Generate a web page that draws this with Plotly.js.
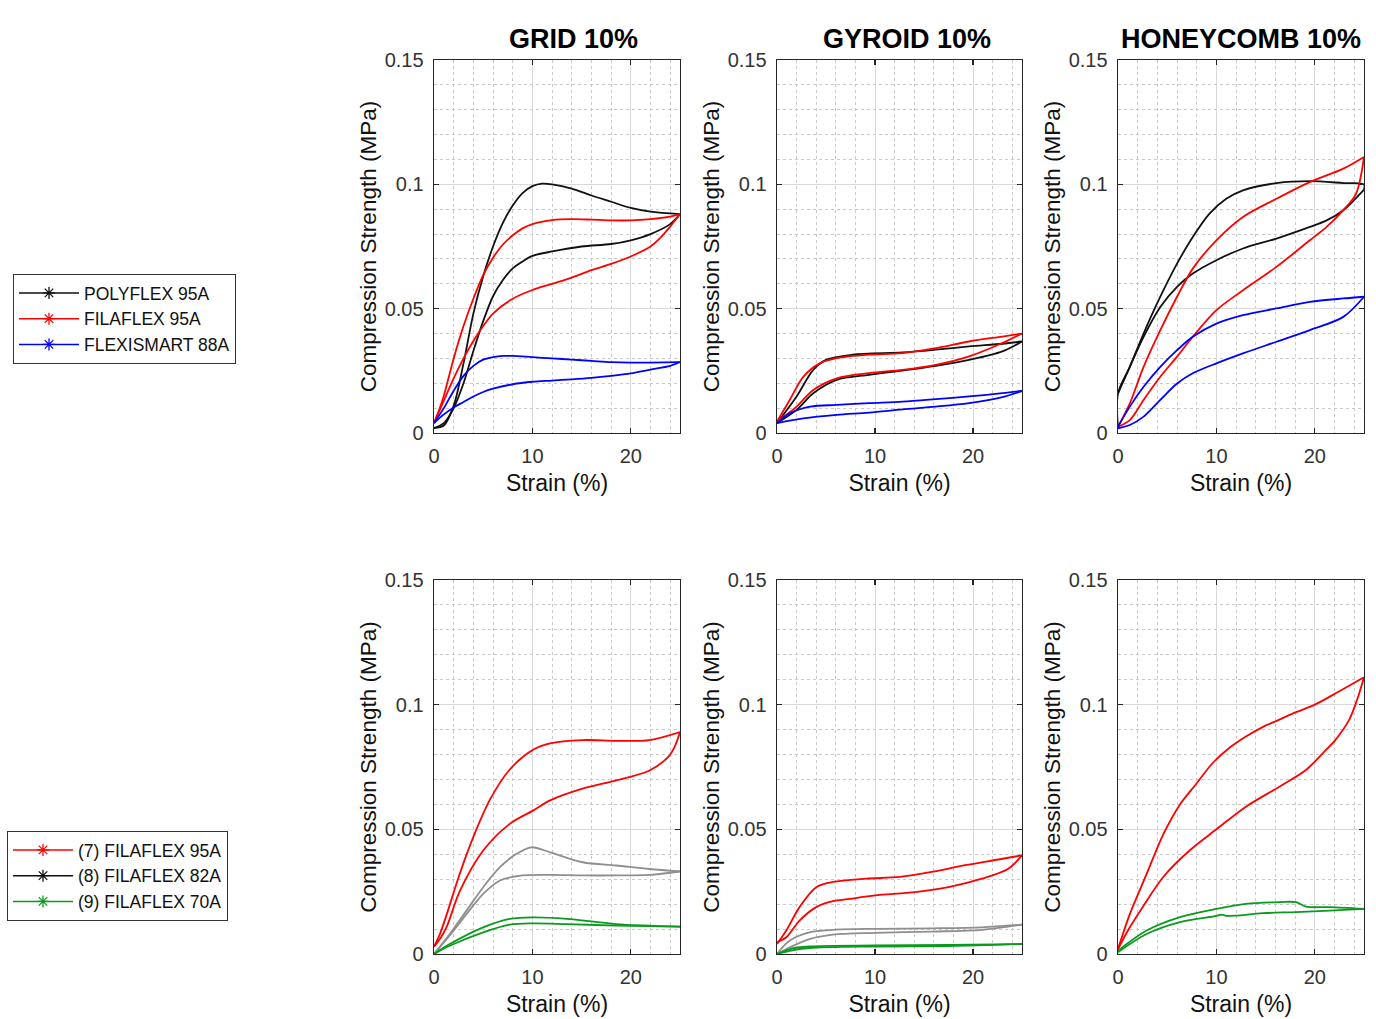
<!DOCTYPE html>
<html>
<head>
<meta charset="utf-8">
<script src="https://cdn.plot.ly/plotly-3.0.1.min.js"></script>
<style>
  html, body { margin: 0; padding: 0; background: #ffffff; }
  #chart { width: 1376px; height: 1019px; }
</style>
</head>
<body>
<div id="chart"></div>
<script>
// ---- Compression loops: strain (%) vs compression strength (MPa) ----
// Each loop runs from 0 up to 25 % strain (loading) and back to 0 (unloading).

// Panel titles and legend names
const panelTitles = ['GRID 10%', 'GYROID 10%', 'HONEYCOMB 10%'];
const topSeriesNames = ['POLYFLEX 95A', 'FILAFLEX 95A', 'FLEXISMART 88A'];
const bottomSeriesNames = ['(7) FILAFLEX 95A', '(8) FILAFLEX 82A', '(9) FILAFLEX 70A'];

// GRID 10% – materials comparison
const gridPolyflexStrain = [0, 1, 2, 3, 4, 5, 6, 7, 8, 9, 10, 11, 12, 14, 16, 18, 20, 22, 25,
  24, 22, 20, 18, 15, 12, 10, 9, 8, 7, 6, 5, 4, 3, 2, 1, 0];
const gridPolyflexStress = [0.002, 0.003, 0.011, 0.028, 0.048, 0.063, 0.075, 0.0845, 0.0915, 0.0965, 0.0993, 0.1003, 0.1, 0.0983, 0.0955, 0.093, 0.0905, 0.089, 0.088,
  0.084, 0.080, 0.0775, 0.076, 0.075, 0.073, 0.0712, 0.069, 0.0662, 0.0615, 0.055, 0.045, 0.033, 0.020, 0.010, 0.004, 0.002];
const gridFilaflexStrain = [0, 0.5, 1, 2, 3, 4, 5, 6, 7, 8, 9, 10, 12, 14, 16, 18, 20, 22, 24, 25,
  24.5, 24, 23, 22, 20, 18, 16, 14, 12, 10, 8, 6, 5, 4, 3, 2, 1, 0];
const gridFilaflexStress = [0.004, 0.009, 0.015, 0.03, 0.043, 0.054, 0.0635, 0.0705, 0.0758, 0.0795, 0.0823, 0.084, 0.0856, 0.086, 0.0858, 0.0855, 0.0855, 0.086, 0.087, 0.088,
  0.0855, 0.083, 0.0785, 0.075, 0.071, 0.068, 0.0655, 0.0625, 0.060, 0.0575, 0.054, 0.048, 0.043, 0.037, 0.030, 0.022, 0.013, 0.004];
const gridFlexismartStrain = [0, 1, 2, 3, 4, 5, 6, 7, 8, 10, 12, 14, 16, 18, 20, 22, 25,
  24, 22, 20, 18, 16, 14, 12, 10, 8, 6, 5, 4, 3, 2, 1, 0];
const gridFlexismartStress = [0.004, 0.01, 0.017, 0.023, 0.027, 0.0295, 0.0305, 0.031, 0.031, 0.0305, 0.030, 0.0295, 0.029, 0.0285, 0.0283, 0.0283, 0.0285,
  0.027, 0.0255, 0.024, 0.023, 0.0222, 0.0216, 0.0211, 0.0206, 0.0196, 0.0178, 0.0165, 0.0147, 0.0125, 0.0103, 0.0075, 0.004];

// GYROID 10% – materials comparison
const gyroidPolyflexStrain = [0, 2, 3.7, 5, 7.7, 12.8, 16.2, 19.6, 23, 25,
  23, 19.6, 16.2, 12.8, 9.4, 6.1, 3.7, 2, 0];
const gyroidPolyflexStress = [0.004, 0.0147, 0.0254, 0.0294, 0.0315, 0.0324, 0.0335, 0.0348, 0.0359, 0.0368,
  0.0328, 0.0294, 0.027, 0.0251, 0.0234, 0.0214, 0.016, 0.0093, 0.004];
const gyroidFilaflexStrain = [0, 1.3, 2.7, 4.4, 6.1, 9.4, 12.8, 16.2, 19.6, 23, 25,
  23, 19.6, 16.2, 12.8, 9.4, 6.1, 3.7, 2, 0];
const gyroidFilaflexStress = [0.0046, 0.0133, 0.0227, 0.0281, 0.0301, 0.0315, 0.0321, 0.0341, 0.0368, 0.0388, 0.040,
  0.0362, 0.0308, 0.0274, 0.0254, 0.0241, 0.022, 0.0173, 0.0106, 0.0046];
const gyroidFlexismartStrain = [0, 1.3, 3.4, 6.1, 9.4, 12.8, 16.2, 19.6, 23, 25,
  23, 19.6, 16.2, 12.8, 9.4, 6.1, 2.7, 0];
const gyroidFlexismartStress = [0.004, 0.0079, 0.0106, 0.0113, 0.012, 0.0126, 0.0136, 0.0147, 0.016, 0.0169,
  0.0144, 0.012, 0.0106, 0.0095, 0.0082, 0.0073, 0.0059, 0.004];

// HONEYCOMB 10% – materials comparison
const honeyPolyflexStrain = [0, 0, 1.2, 2.6, 4.3, 6, 7.6, 9.3, 11, 12.7, 16.1, 19.5, 22.9, 25,
  25, 22.9, 21.2, 19.5, 16.1, 12.7, 10, 7.6, 6, 4.3, 2.6, 1.2, 0];
const honeyPolyflexStress = [0.002, 0.0159, 0.0266, 0.040, 0.0548, 0.0681, 0.0788, 0.0882, 0.0942, 0.0976, 0.1005, 0.1013, 0.1005, 0.0999,
  0.0979, 0.0896, 0.0855, 0.0829, 0.0782, 0.0742, 0.0695, 0.0641, 0.0588, 0.0507, 0.0387, 0.0266, 0.0159];
const honeyFilaflexStrain = [0, 1.2, 2.6, 4.3, 6, 7.6, 10, 12.7, 16.1, 19.5, 22.9, 25,
  24.2, 22.9, 21.2, 19.5, 16.1, 12.7, 10, 7.6, 6, 4.3, 2.6, 1.2, 0];
const honeyFilaflexStress = [0.0025, 0.0119, 0.0266, 0.0414, 0.0548, 0.0661, 0.0775, 0.0869, 0.0942, 0.1009, 0.1063, 0.111,
  0.0963, 0.0896, 0.0829, 0.0775, 0.0668, 0.0574, 0.0494, 0.0387, 0.0307, 0.0226, 0.0133, 0.0052, 0.0025];
const honeyFlexismartStrain = [0, 1.2, 2.6, 4.3, 6, 7.6, 10, 12.7, 16.1, 19.5, 22.9, 25,
  22.9, 19.5, 16.1, 12.7, 10, 7.6, 6, 4.3, 2.6, 1.2, 0];
const honeyFlexismartStress = [0.0025, 0.0106, 0.0186, 0.0266, 0.0333, 0.0387, 0.044, 0.0474, 0.0501, 0.0527, 0.0541, 0.0548,
  0.0467, 0.0414, 0.0367, 0.032, 0.028, 0.024, 0.0199, 0.0133, 0.0066, 0.0032, 0.0019];

// GRID 10% – FILAFLEX hardness comparison
const grid95aStrain = [0, 0.6, 1.3, 2.6, 4, 5.7, 7.7, 10.1, 11.8, 15.1, 18.5, 21.9, 25,
  24.5, 23.9, 21.9, 18.5, 15.1, 11.8, 10.1, 7.7, 5, 2.6, 1.3, 0.6, 0];
const grid95aStress = [0.003, 0.008, 0.016, 0.032, 0.047, 0.062, 0.074, 0.082, 0.0845, 0.0858, 0.0855, 0.0858, 0.089,
  0.0835, 0.0795, 0.0736, 0.0696, 0.0663, 0.0616, 0.0576, 0.0522, 0.0415, 0.025, 0.011, 0.006, 0.003];
const grid82aStrain = [0, 1.6, 3.3, 5, 6.7, 8.4, 9.9, 11.8, 15.1, 18.5, 21.9, 25,
  21.9, 18.5, 15.1, 11.8, 9, 6.7, 5, 3.3, 1.6, 0];
const grid82aStress = [0, 0.008, 0.0174, 0.0268, 0.0348, 0.0402, 0.0428, 0.0408, 0.0368, 0.0355, 0.0341, 0.0331,
  0.0317, 0.0315, 0.0315, 0.0317, 0.0315, 0.0295, 0.0241, 0.016, 0.0074, 0];
const grid70aStrain = [0, 1.6, 5, 7.7, 10.1, 13.5, 18.5, 25,
  18.5, 13.5, 10.1, 7.7, 5, 1.6, 0];
const grid70aStress = [0, 0.004, 0.0107, 0.0141, 0.0147, 0.0141, 0.012, 0.011,
  0.0114, 0.012, 0.0123, 0.0118, 0.0087, 0.0033, 0];

// GYROID 10% – FILAFLEX hardness comparison
const gyroid95aStrain = [0, 0.95, 2.3, 4, 5.7, 9.1, 12.5, 15.8, 19.2, 22.6, 25,
  23.6, 20.9, 17.5, 14.1, 10, 7.4, 5.7, 4, 2.3, 0.95, 0];
const gyroid95aStress = [0.004, 0.0094, 0.0188, 0.0268, 0.0289, 0.0302, 0.0309, 0.0329, 0.0356, 0.0379, 0.0396,
  0.0342, 0.0302, 0.0268, 0.0248, 0.0235, 0.0221, 0.0212, 0.0188, 0.0134, 0.0067, 0.0047];
const gyroid82aStrain = [0, 1.3, 3.3, 5.7, 10, 15.8, 20.9, 25,
  20.9, 15.8, 10, 5.7, 3.3, 1.3, 0];
const gyroid82aStress = [0, 0.0054, 0.0087, 0.0097, 0.0101, 0.0103, 0.0107, 0.0118,
  0.0097, 0.009, 0.0085, 0.0078, 0.006, 0.0027, 0];
const gyroid70aStrain = [0, 1.3, 3.3, 10, 17.5, 25,
  17.5, 10, 3.3, 1.3, 0];
const gyroid70aStress = [0, 0.002, 0.003, 0.0034, 0.0036, 0.004,
  0.0032, 0.003, 0.0024, 0.0013, 0];

// HONEYCOMB 10% – FILAFLEX hardness comparison
const honey95aStrain = [0, 1.2, 2.9, 4.6, 6.3, 7.9, 9.6, 11.3, 13, 14.7, 16.4, 18.1, 20, 22.5, 25,
  24.3, 23.5, 22.1, 20.8, 19.1, 16.4, 13, 10, 7.3, 4.6, 2.5, 1.2, 0];
const honey95aStress = [0.002, 0.016, 0.032, 0.048, 0.060, 0.068, 0.0765, 0.0826, 0.0872, 0.091, 0.094, 0.097, 0.100, 0.1054, 0.111,
  0.102, 0.094, 0.0859, 0.0805, 0.0738, 0.0671, 0.0591, 0.050, 0.0416, 0.0309, 0.0188, 0.0107, 0.002];
const honey70aStrain = [0, 2.9, 6.3, 10, 13, 16.4, 18.1, 19.1, 21.5, 25,
  21.5, 18.1, 14.7, 12, 11, 10.5, 10, 6.3, 2.9, 0];
const honey70aStress = [0.0013, 0.0094, 0.0148, 0.0181, 0.0201, 0.0208, 0.0208, 0.019, 0.0188, 0.0181,
  0.0174, 0.0168, 0.0164, 0.0154, 0.0153, 0.0158, 0.0153, 0.0128, 0.008, 0.0007];

// ---- Styling ----
const FONT = 'Liberation Sans, Arial, Helvetica, sans-serif';
const INK = '#333333';
const COLORS = { black: '#111111', red: '#ff0000', blue: '#0000ff', grey: '#8f8f8f', green: '#0a9a1e' };

// Plot-area boxes in page pixels (page is 1376 x 1019)
const W = 1376, H = 1019;
const colPx = [[434, 680], [777, 1022], [1118, 1364]];
const rowPx = [[60, 433], [580, 954]];

// Split a loop at its maximum strain so loading and unloading are smoothed separately
function loopTraces(strain, stress, color, axisIdx) {
  let k = 0;
  strain.forEach((v, i) => { if (v >= strain[k]) k = i; });
  const suffix = axisIdx === 1 ? '' : String(axisIdx);
  const base = {
    type: 'scatter', mode: 'lines', showlegend: false, hoverinfo: 'skip',
    line: { color: color, width: 1.8, shape: 'spline', smoothing: 0.9 },
    xaxis: 'x' + suffix, yaxis: 'y' + suffix
  };
  return [
    Object.assign({}, base, { x: strain.slice(0, k + 1), y: stress.slice(0, k + 1) }),
    Object.assign({}, base, { x: strain.slice(k), y: stress.slice(k) })
  ];
}

const panels = [
  [[gridPolyflexStrain, gridPolyflexStress, COLORS.black],
   [gridFilaflexStrain, gridFilaflexStress, COLORS.red],
   [gridFlexismartStrain, gridFlexismartStress, COLORS.blue]],
  [[gyroidPolyflexStrain, gyroidPolyflexStress, COLORS.black],
   [gyroidFilaflexStrain, gyroidFilaflexStress, COLORS.red],
   [gyroidFlexismartStrain, gyroidFlexismartStress, COLORS.blue]],
  [[honeyPolyflexStrain, honeyPolyflexStress, COLORS.black],
   [honeyFilaflexStrain, honeyFilaflexStress, COLORS.red],
   [honeyFlexismartStrain, honeyFlexismartStress, COLORS.blue]],
  [[grid82aStrain, grid82aStress, COLORS.grey],
   [grid70aStrain, grid70aStress, COLORS.green],
   [grid95aStrain, grid95aStress, COLORS.red]],
  [[gyroid82aStrain, gyroid82aStress, COLORS.grey],
   [gyroid70aStrain, gyroid70aStress, COLORS.green],
   [gyroid95aStrain, gyroid95aStress, COLORS.red]],
  [[honey70aStrain, honey70aStress, COLORS.green],
   [honey95aStrain, honey95aStress, COLORS.red]]
];

const traces = [];
panels.forEach((curves, p) => {
  curves.forEach(c => traces.push(...loopTraces(c[0], c[1], c[2], p + 1)));
});

// Legend entries (line with asterisk marker)
function legendEntry(name, color, legendId) {
  return {
    type: 'scatter', mode: 'lines+markers', x: [null], y: [null], name: name,
    legend: legendId, hoverinfo: 'skip',
    line: { color: color, width: 1.5 },
    marker: { symbol: 'asterisk-open', size: 10, color: color, line: { color: color, width: 1.3 } }
  };
}
[COLORS.black, COLORS.red, COLORS.blue].forEach((c, i) => traces.push(legendEntry(topSeriesNames[i], c, 'legend')));
['#ff0000', '#111111', COLORS.green].forEach((c, i) => traces.push(legendEntry(bottomSeriesNames[i], c, 'legend2')));

const legendStyle = {
  xanchor: 'left', yanchor: 'top',
  bordercolor: '#333333', borderwidth: 1, bgcolor: '#ffffff',
  font: { family: FONT, size: 17.5, color: '#111111' },
  itemwidth: 60, itemclick: false, itemdoubleclick: false
};

const layout = {
  width: W, height: H,
  margin: { l: 0, r: 0, t: 0, b: 0 },
  paper_bgcolor: '#ffffff', plot_bgcolor: '#ffffff',
  font: { family: FONT, color: INK, size: 18 },
  showlegend: true,
  legend: Object.assign({ x: 13 / W, y: 1 - 274 / H }, legendStyle),
  legend2: Object.assign({ x: 7 / W, y: 1 - 831 / H }, legendStyle),
  annotations: [],
  hovermode: false
};

for (let p = 0; p < 6; p++) {
  const col = p % 3, row = Math.floor(p / 3);
  const suffix = p === 0 ? '' : String(p + 1);
  const common = {
    showline: true, linecolor: '#262626', linewidth: 1.4, mirror: 'ticks',
    ticks: 'inside', ticklen: 5, tickwidth: 1.2, tickcolor: '#262626',
    showgrid: true, gridcolor: '#d9d9d9', gridwidth: 1, zeroline: false,
    tickfont: { family: FONT, size: 20, color: INK },
    ticklabelstandoff: 5, fixedrange: true
  };
  layout['xaxis' + suffix] = Object.assign({}, common, {
    domain: [colPx[col][0] / W, colPx[col][1] / W],
    anchor: 'y' + suffix, range: [0, 25],
    tickmode: 'linear', tick0: 0, dtick: 10,
    minor: { tick0: 0, dtick: 2, showgrid: true, gridcolor: '#c9c9c9', griddash: 'dot', gridwidth: 1, ticks: '' },
    title: { text: 'Strain (%)', font: { family: FONT, size: 23, color: '#111111' }, standoff: 8 }
  });
  layout['yaxis' + suffix] = Object.assign({}, common, {
    domain: [1 - rowPx[row][1] / H, 1 - rowPx[row][0] / H],
    anchor: 'x' + suffix, range: [0, 0.15],
    tickmode: 'linear', tick0: 0, dtick: 0.05,
    minor: { tick0: 0, dtick: 0.01, showgrid: true, gridcolor: '#c9c9c9', griddash: 'dot', gridwidth: 1, ticks: '' },
    title: { text: 'Compression Strength (MPa)', font: { family: FONT, size: 22.5, color: '#111111' }, standoff: 1 }
  });
}

// Subplot titles on the top row
const titleCenters = [573, 907, 1241];
panelTitles.forEach((t, i) => {
  layout.annotations.push({
    text: '<b>' + t + '</b>', x: titleCenters[i] / W, y: 1 - 39 / H,
    xref: 'paper', yref: 'paper', xanchor: 'center', yanchor: 'middle',
    showarrow: false, font: { family: FONT, size: 27, color: '#000000' }
  });
});

Plotly.newPlot('chart', traces, layout, { displayModeBar: false, staticPlot: true });
</script>
</body>
</html>
